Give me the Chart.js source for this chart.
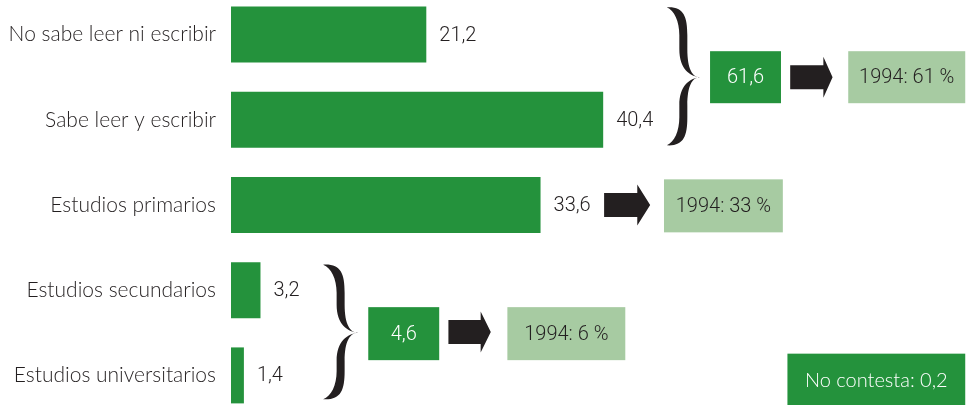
<!DOCTYPE html>
<html>
<head>
<meta charset="utf-8">
<script src="https://cdn.jsdelivr.net/npm/chart.js@4"></script>
<style>
  html, body { margin: 0; padding: 0; background: #fff; overflow: hidden; }
  #wrap { position: absolute; left: 0; top: -8px; width: 968px; height: 426px; }
</style>
</head>
<body>
<div id="wrap"><canvas id="myChart"></canvas></div>
<script>
// datos
var categories = ['No sabe leer ni escribir', 'Sabe leer y escribir', 'Estudios primarios', 'Estudios secundarios', 'Estudios universitarios']
var values = [21.2, 40.4, 33.6, 3.2, 1.4]
var groupTotals = [61.6, 4.6]       // suma de grupos
var values1994 = [61, 33, 6]        // referencia 1994
var noContesta = 0.2

var green = '#24923c'
var lightGreen = '#a7cba2'
var ink = '#231f20'
var fontFam = 'Lato, sans-serif'
var boxFont = 'Roboto, sans-serif'

const fmt = v => v.toFixed(1).replace('.', ',')

// dibuja una llave "}" rellena
function brace(ctx, x0, x2, yt, yb, ym){
  var w = 8
  var L = x0 + (x2 - x0) * 0.5 - w / 2
  var R = L + w
  var c = 28
  ctx.beginPath()
  ctx.moveTo(x0, yt)
  ctx.bezierCurveTo(R - 4, yt - 1, R, yt + c * 0.3, R, yt + c)
  ctx.lineTo(R, ym - c)
  ctx.bezierCurveTo(R, ym - c * 0.3, R + (x2 - R) * 0.4, ym, x2, ym)
  ctx.bezierCurveTo(R + (x2 - R) * 0.4, ym, R, ym + c * 0.3, R, ym + c)
  ctx.lineTo(R, yb - c)
  ctx.bezierCurveTo(R, yb - c * 0.3, R - 4, yb + 1, x0, yb)
  ctx.bezierCurveTo(x0 + (L - x0) * 0.6, yb - 3, L, yb - c * 0.5, L, yb - c)
  ctx.lineTo(L, ym + c)
  ctx.bezierCurveTo(L, ym + c * 0.3, L + (x2 - L) * 0.5, ym + 1, x2, ym)
  ctx.bezierCurveTo(L + (x2 - L) * 0.5, ym - 1, L, ym - c * 0.3, L, ym - c)
  ctx.lineTo(L, yt + c)
  ctx.bezierCurveTo(L, yt + c * 0.5, x0 + (L - x0) * 0.6, yt + 3, x0, yt)
  ctx.closePath()
  ctx.fillStyle = ink
  ctx.fill()
}

function arrow(ctx, x1, xh, x2, yc){
  ctx.beginPath()
  ctx.moveTo(x1, yc - 12)
  ctx.lineTo(xh, yc - 12)
  ctx.lineTo(xh, yc - 20.5)
  ctx.lineTo(x2, yc)
  ctx.lineTo(xh, yc + 20.5)
  ctx.lineTo(xh, yc + 12)
  ctx.lineTo(x1, yc + 12)
  ctx.closePath()
  ctx.fillStyle = ink
  ctx.fill()
}

function box(ctx, xa, xb, yc, h, bg, fg, txt, fam){
  ctx.fillStyle = bg
  ctx.fillRect(xa, yc - h / 2, xb - xa, h)
  ctx.fillStyle = fg
  ctx.font = '300 20px ' + fam
  ctx.textAlign = 'center'
  ctx.textBaseline = 'middle'
  ctx.fillText(txt, (xa + xb) / 2, yc + 1)
}

const extras = {
  id: 'extras',
  afterDatasetsDraw(chart){
    var ctx = chart.ctx
    var xs = chart.scales.x, ys = chart.scales.y
    var X = v => xs.getPixelForValue(v)
    var Y = c => ys.getPixelForValue(c)
    ctx.save()
    // etiquetas de valor
    ctx.font = '300 20px ' + boxFont
    ctx.fillStyle = ink
    ctx.textAlign = 'left'
    ctx.textBaseline = 'middle'
    chart.getDatasetMeta(0).data.forEach((bar, i) => {
      ctx.fillText(fmt(values[i]), bar.x + 13, bar.y + 1)
    })
    // grupo 1 (primeras dos barras)
    brace(ctx, X(47.3), X(50.9), Y(-0.32), Y(1.3), Y(0.5))
    box(ctx, X(52), X(59.7), Y(0.5), 52, green, '#fff', fmt(groupTotals[0]), boxFont)
    arrow(ctx, X(60.7), X(64.3), X(65.3), Y(0.5))
    box(ctx, X(67), X(79.7), Y(0.5), 52, lightGreen, ink, '1994: ' + values1994[0] + ' %', boxFont)
    // estudios primarios
    arrow(ctx, X(40.5), X(44.1), X(45.5), Y(2))
    box(ctx, X(47), X(59.9), Y(2.01), 53, lightGreen, ink, '1994: ' + values1994[1] + ' %', boxFont)
    // grupo 2
    brace(ctx, X(10), X(13.8), Y(2.7), Y(4.28), Y(3.5))
    box(ctx, X(14.9), X(22.6), Y(3.51), 53, green, '#fff', fmt(groupTotals[1]), boxFont)
    arrow(ctx, X(23.6), X(27.1), X(28.2), Y(3.49))
    box(ctx, X(30), X(42.8), Y(3.51), 53, lightGreen, ink, '1994: ' + values1994[2] + ' %', boxFont)
    // no contesta
    box(ctx, X(60.4), X(79.7), Y(4.05), 52, green, '#fff', 'No contesta: ' + fmt(noContesta), fontFam)
    ctx.restore()
  }
}

const data = {
  labels: categories,
  datasets: [{
    data: values,
    backgroundColor: green,
    borderWidth: 0,
    categoryPercentage: 1,
    barPercentage: 0.657
  }]
}

const config = {
  type: 'bar',
  data: data,
  plugins: [extras],
  options: {
    indexAxis: 'y',
    responsive: true,
    maintainAspectRatio: false,
    animation: false,
    layout: { padding: 0 },
    plugins: {
      legend: { display: false },
      tooltip: { enabled: false }
    },
    scales: {
      x: { display: false, min: 0, max: 80 },
      y: {
        grid: { display: false, drawTicks: false },
        border: { display: false },
        ticks: { color: ink, font: { family: fontFam, size: 21, weight: 300 }, padding: 15 },
        afterFit: s => { s.width = 231; s.paddingTop = 0; s.paddingBottom = 0 }
      }
    }
  }
}
var myChart = new Chart('myChart', config)
</script>
</body>
</html>
